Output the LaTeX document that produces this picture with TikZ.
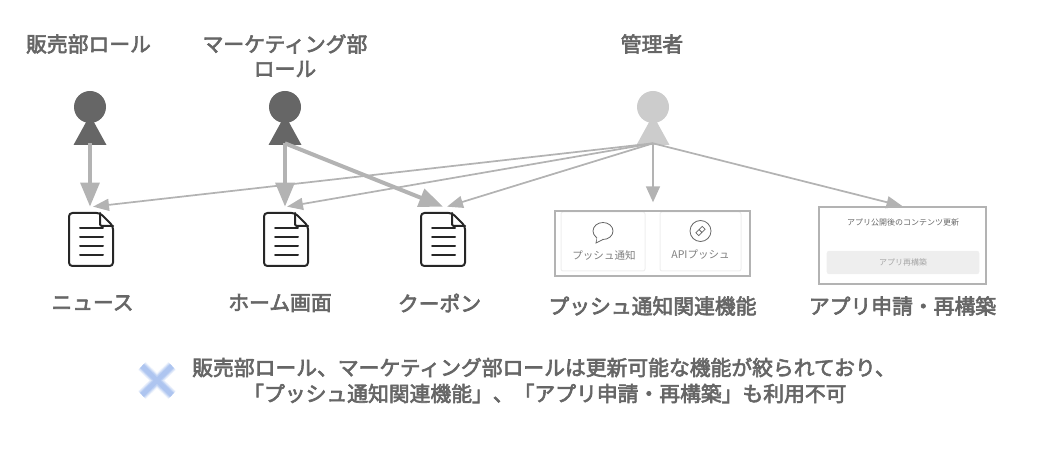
\documentclass[tikz,border=0pt]{standalone}
\usepackage{fontspec}
\setmainfont{Noto Sans CJK JP}
\newfontfamily\labfont[FakeBold=3]{Noto Sans CJK JP}
\usetikzlibrary{arrows.meta}
\definecolor{txt}{HTML}{666666}
\definecolor{arrowgrey}{HTML}{B3B3B3}
\definecolor{cardline}{HTML}{EEEEEE}
\definecolor{crossblue}{HTML}{A4BEEE}
\tikzset{
  x=0.75pt,y=-0.75pt,
  lab/.style={text=txt,font=\fontsize{15.6pt}{18pt}\labfont,inner sep=0pt},
  note/.style={lab,anchor=west},
  small/.style={text=txt,font=\fontsize{7.9pt}{9pt}\selectfont,inner sep=0pt},
  tiny/.style={text=txt,font=\fontsize{6pt}{7pt}\selectfont,inner sep=0pt},
  anchorbox/.style={minimum width=33pt,minimum height=#1,inner sep=0pt,outer sep=0pt},
  thick arrow/.style={draw=arrowgrey,line width=3pt,-{Triangle[length=18pt,width=14pt]}},
  thin arrow/.style={draw=arrowgrey,line width=1.3pt,-{Triangle[length=12pt,width=9pt]}},
  down arrow/.style={draw=arrowgrey,line width=1.3pt,-{Triangle[length=12pt,width=10.5pt]}},
  framebox/.style={draw=arrowgrey,line width=1.5pt},
  cardbox/.style={draw=cardline,line width=.75pt,rounded corners=1.5pt},
  docline/.style={draw=black!85,line width=1.5pt,line cap=round},
  docoutline/.style={draw=black!85,line width=1.5pt,line join=round,rounded corners=2.5pt},
}
\newcommand{\personshape}[3]{%
  \fill[#3] (#1,#2) circle (16);
  \fill[#3] (#1,#2+8) -- (#1+16.5,#2+38) -- (#1-16.5,#2+38) -- cycle;
}
\newcommand{\docshape}[1]{%
  \begin{scope}[shift={(#1,213)}]
    \draw[docoutline] (9,0) -- (31,0) -- (44,13) -- (44,53) -- (0,53) -- (0,0) -- (9,0);
    \draw[docline,rounded corners=1.5pt] (31,0) -- (31,13) -- (44,13);
    \foreach \yy in {15,24,33,42} \draw[docline] (11,\yy) -- (34,\yy);
  \end{scope}
}
\begin{document}
\begin{tikzpicture}
\useasboundingbox (0,0) rectangle (1044,466);
% people
\personshape{90}{107}{txt}
\personshape{285}{107}{txt}
\personshape{653}{107}{black!20}
\node[anchorbox=20pt] (p1) at (90,130) {};
\node[anchorbox=20pt] (p2) at (285,130) {};
\node[anchorbox=20pt] (p3) at (653,130) {};
% documents
\docshape{69}\docshape{264}\docshape{421}
\node[anchorbox=44pt] (d1) at (91,236) {};
\node[anchorbox=44pt] (d2) at (286,236) {};
\node[anchorbox=44pt] (d3) at (443,236) {};
% role labels
\node[lab] (r1) at (88.5,44) {販売部ロール};
\node[lab] (r2) at (285,44) {マーケティング部};
\node[lab] (r2b) at (285,69) {ロール};
\node[lab] (r3) at (652,44) {管理者};
% push box
\draw[cardbox] (561,212) rectangle (645,271);
\draw[cardbox] (660,212) rectangle (741,271);
\draw[framebox] (555,211) rectangle (750,276);
\draw[draw=txt,line width=.6pt,fill=white] (603,231) ellipse (10 and 8.5);
\draw[draw=txt,line width=.6pt,fill=white] (597,238) -- (596,243) -- (603,239.5);
\draw[draw=white,fill=white] (597.5,237.5) -- (597,241) -- (602,238.5) -- cycle;
\draw[draw=txt,line width=.6pt] (700.5,231) circle (10.5);
\draw[draw=txt,line width=.6pt,rotate around={45:(700.5,231)}] (696,229) rectangle (700.5,233) (700.5,229) rectangle (705,233);
\node[small,text=txt!85] (t1) at (604,255) {プッシュ通知};
\node[small,text=txt!85] (t2) at (700.5,255) {APIプッシュ};
% app box
\node[minimum width=125pt,minimum height=57.5pt,inner sep=0pt,framebox] (appbox) at (902.5,245.5) {};
\node[tiny] (t3) at (903,222) {アプリ公開後のコンテンツ更新};
\node[draw=cardline,fill=cardline,rounded corners=1.5pt,minimum width=114pt,minimum height=17pt,inner sep=0pt,text=black!35,font=\fontsize{6pt}{7pt}\selectfont] (btn) at (903,262.5) {アプリ再構築};
\node[minimum width=146pt,minimum height=49pt,inner sep=0pt,outer sep=0pt] (pushbox) at (653,235) {};
% item labels
\node[lab] (l1) at (92.5,303) {ニュース};
\node[lab] (l2) at (280,303) {ホーム画面};
\node[lab] (l3) at (439.5,303) {クーポン};
\node[lab] (l4) at (652.5,306) {プッシュ通知関連機能};
\node[lab] (l5) at (902.5,306) {アプリ申請・再構築};
% connectors
\draw[thin arrow] (p3.south) -- ([xshift=1.5pt]d1.north);
\draw[thin arrow] (p3.south) -- ([xshift=.75pt]d2.north);
\draw[thin arrow] (p3.south) -- ([xshift=3pt]d3.north);
\draw[down arrow] (p3.south) -- (pushbox.north);
\draw[thin arrow] (p3.south) -- (appbox.north);
\draw[thick arrow] (p1.south) -- (d1.north -| p1.south);
\draw[thick arrow] (p2.south) -- (d2.north -| p2.south);
\draw[thick arrow] (p2.south) -- (d3.north);
% cross
\foreach \w/\o in {8/.2,6.5/.3,5/.5,3.5/.6}{
  \draw[draw=crossblue,opacity=\o,line width=\w pt,line cap=butt]
    (142,366) -- (172,395) (172,366) -- (142,395);
}
\coordinate (crossc) at (157,380);
% note
\node[note] (n1) at (192,367.5) {販売部ロール、マーケティング部ロールは更新可能な機能が絞られており、};
\node[note] (n2) at (243,393.5) {「プッシュ通知関連機能」、「アプリ申請・再構築」も利用不可};
\end{tikzpicture}
\end{document}
